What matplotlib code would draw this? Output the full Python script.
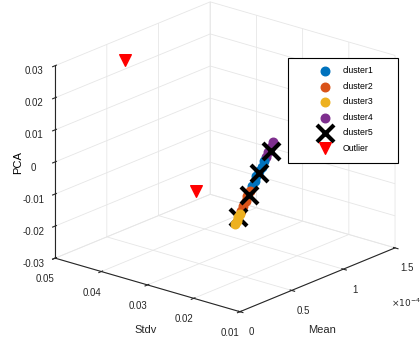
import matplotlib.pyplot as plt
from matplotlib.patches import Rectangle
import numpy as np

# Mean values are in units of 1e-4
c1_mean = [0.212, 0.234, 0.256, 0.278, 0.300, 0.322]
c1_stdv = [0.0121, 0.0120, 0.0122, 0.0121, 0.0120, 0.0121]
c1_pca = [0.0055, 0.0067, 0.0079, 0.0092, 0.0104, 0.0117]

c2_mean = [0.102, 0.124, 0.146, 0.168, 0.190]
c2_stdv = [0.0120, 0.0121, 0.0120, 0.0122, 0.0121]
c2_pca = [-0.0007, 0.0005, 0.0018, 0.0030, 0.0042]

c3_mean = [0.043, 0.058, 0.072, 0.087]
c3_stdv = [0.0121, 0.0120, 0.0121, 0.0120]
c3_pca = [-0.0040, -0.0032, -0.0024, -0.0015]

c4_mean = [0.344, 0.366, 0.388, 0.410]
c4_stdv = [0.0120, 0.0121, 0.0120, 0.0121]
c4_pca = [0.0129, 0.0141, 0.0154, 0.0166]

c5_mean = [0.070, 0.180, 0.270, 0.390]
c5_stdv = [0.0120, 0.0121, 0.0120, 0.0121]
c5_pca = [-0.0021, 0.0030, 0.0088, 0.0141]

out_mean = [0.53, 0.33]
out_stdv = [0.0467, 0.0270]
out_pca = [0.026, -0.0040]

plt.rcParams['font.family'] = ['Liberation Sans', 'DejaVu Sans']

fig = plt.figure(figsize=(4.2, 3.39), dpi=100)
ax = fig.add_axes([0.025, 0.024, 1.0, 1.0], projection='3d', proj_type='ortho')
ax.view_init(elev=20.2, azim=-140)
ax.set_box_aspect((1, 1, 0.85), zoom=1.14)

ax.scatter(c1_mean, c1_stdv, c1_pca, s=38, c='#0072BD', depthshade=False, label='cluster1')
ax.scatter(c2_mean, c2_stdv, c2_pca, s=38, c='#D95319', depthshade=False, label='cluster2')
ax.scatter(c3_mean, c3_stdv, c3_pca, s=38, c='#EDB120', depthshade=False, label='cluster3')
ax.scatter(c4_mean, c4_stdv, c4_pca, s=38, c='#7E2F8E', depthshade=False, label='cluster4')
ax.scatter(c5_mean, c5_stdv, c5_pca, s=150, c='k', marker='x', linewidths=3, depthshade=False, label='cluster5')
ax.scatter(out_mean, out_stdv, out_pca, s=70, c='r', marker='v', depthshade=False, label='Outlier')

ax.set_xlim(0, 1.5)
ax.set_ylim(0.01, 0.05)
ax.set_zlim(-0.03, 0.03)
ax.set_xticks([0, 0.5, 1, 1.5])
ax.set_xticklabels(['0', '0.5', '1', '1.5'])
ax.set_yticks([0.01, 0.02, 0.03, 0.04, 0.05])
ax.set_yticklabels(['0.01', '0.02', '0.03', '0.04', '0.05'])
ax.set_zticks([-0.03, -0.02, -0.01, 0, 0.01, 0.02, 0.03])
ax.set_zticklabels(['-0.03', '-0.02', '-0.01', '0', '0.01', '0.02', '0.03'])
ax.tick_params(labelsize=7, colors='#262626', pad=0)

ax.zaxis.set_rotate_label(False)
ax.set_zlabel('PCA', fontsize=8, labelpad=-7, rotation=90)

for a in (ax.xaxis, ax.yaxis, ax.zaxis):
    a.set_pane_color((1, 1, 1, 1))
    a._axinfo['grid']['color'] = '#e6e6e6'
    a._axinfo['grid']['linewidth'] = 0.6
    a.line.set_color('#262626')

fig.text(0.767, 0.027, 'Mean', fontsize=8, color='#262626', ha='center', va='center')
fig.text(0.348, 0.027, 'Stdv', fontsize=8, color='#262626', ha='center', va='center')
fig.text(0.93, 0.095, '$\\times10^{-4}$', fontsize=6.5, color='#262626')

handles, labels = ax.get_legend_handles_labels()
leg = fig.legend(handles, labels, loc='upper left', bbox_to_anchor=(0.743, 0.817),
                 fontsize=6.3, frameon=False, scatterpoints=1, borderpad=0,
                 handlelength=2.05, handletextpad=0.95, labelspacing=0.74)
frame = Rectangle((0.686, 0.519), 0.262, 0.31, transform=fig.transFigure,
                  facecolor='white', edgecolor='k', linewidth=0.8, zorder=1)
fig.add_artist(frame)

fig.savefig('out.png', dpi=100)
